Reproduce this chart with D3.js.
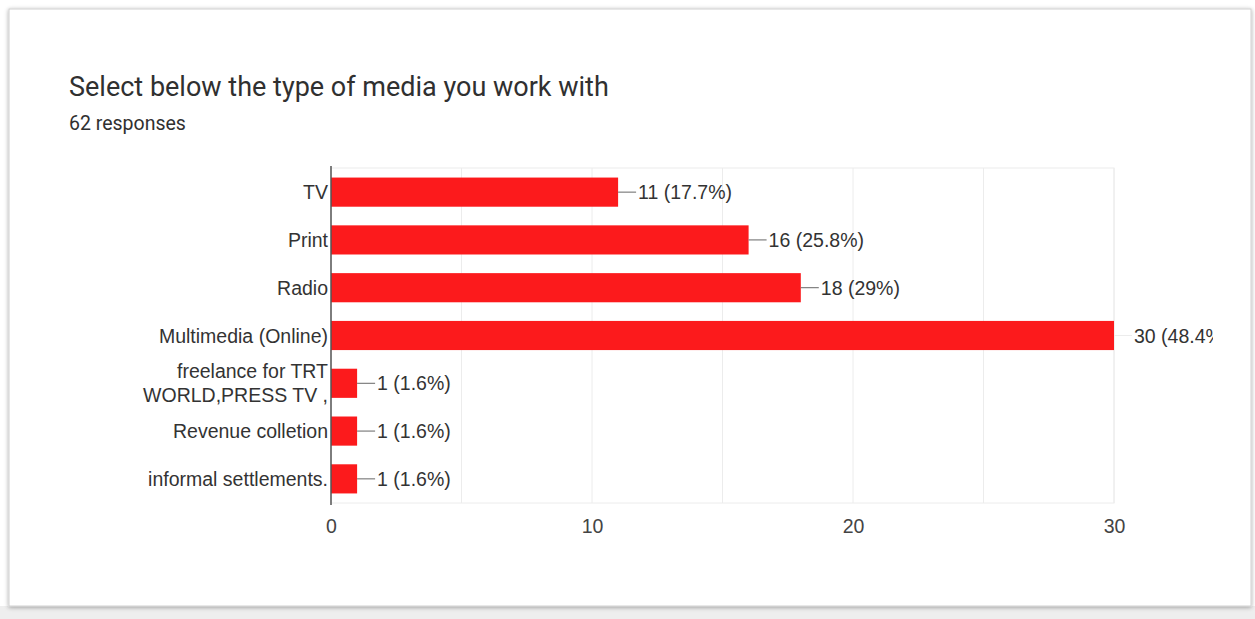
<!DOCTYPE html>
<html>
<head>
<meta charset="utf-8">
<script src="https://cdn.jsdelivr.net/npm/d3@7"></script>
<style>
  body { margin: 0; background: #fff; }
  svg { display: block; }
</style>
</head>
<body>
<svg id="chart" width="1255" height="619"></svg>
<script>
// chart data
const categories = [
  ["TV"],
  ["Print"],
  ["Radio"],
  ["Multimedia (Online)"],
  ["freelance for TRT", "WORLD,PRESS TV ,"],
  ["Revenue colletion"],
  ["informal settlements."]
];
const counts = [11, 16, 18, 30, 1, 1, 1];
const percents = ["17.7%", "25.8%", "29%", "48.4%", "1.6%", "1.6%", "1.6%"];
const responses = 62;
const xTicks = [0, 10, 20, 30];
const gridTicks = [5, 10, 15, 20, 25, 30];

const svg = d3.select("#chart");
const font = "Arial, 'Liberation Sans', sans-serif";
const fs = 19.5;
const plotTop = 168, plotBottom = 503;

// card with a soft shadow
const defs = svg.append("defs");
const shadow = defs.append("filter").attr("id", "shadow")
  .attr("x", "-5%").attr("y", "-5%").attr("width", "110%").attr("height", "110%");
shadow.append("feDropShadow").attr("dx", 0).attr("dy", 1)
  .attr("stdDeviation", 2).attr("flood-color", "#000").attr("flood-opacity", 0.35);

svg.append("rect")
  .attr("x", 0).attr("y", 606).attr("width", 1255).attr("height", 13)
  .attr("fill", "#eeeeee");
svg.append("rect")
  .attr("x", 9).attr("y", 9).attr("width", 1242).attr("height", 597)
  .attr("fill", "#fff").attr("stroke", "#d0d0d0")
  .attr("filter", "url(#shadow)");

// titles
svg.append("text")
  .attr("x", 69).attr("y", 96)
  .attr("font-family", "Roboto, sans-serif").attr("font-size", 27)
  .attr("fill", "#303030")
  .text("Select below the type of media you work with");
svg.append("text")
  .attr("x", 69).attr("y", 130)
  .attr("font-family", "Roboto, sans-serif").attr("font-size", 19.5)
  .attr("fill", "#303030")
  .text(responses + " responses");

// scales
const x = d3.scaleLinear().domain([0, 30]).range([331, 1114]);
const y = d3.scaleBand()
  .domain(d3.range(categories.length))
  .range([plotTop, plotBottom])
  .paddingInner(0.39)
  .paddingOuter(0.2);

const clip = defs.append("clipPath").attr("id", "clip");
clip.append("rect").attr("x", 0).attr("y", 0).attr("width", 1213).attr("height", 619);

// plot frame and gridlines
svg.append("rect")
  .attr("x", x(0)).attr("y", plotTop)
  .attr("width", x(30) - x(0)).attr("height", plotBottom - plotTop)
  .attr("fill", "none").attr("stroke", "#ececec");
svg.append("g")
  .selectAll("line")
  .data(gridTicks)
  .join("line")
  .attr("x1", d => x(d)).attr("x2", d => x(d))
  .attr("y1", plotTop).attr("y2", plotBottom)
  .attr("stroke", "#ececec");

// x axis labels
const xAxis = d3.axisBottom(x).tickValues(xTicks).tickSize(0).tickPadding(16);
const xg = svg.append("g").attr("transform", `translate(0,${plotBottom})`).call(xAxis);
xg.select(".domain").remove();
xg.selectAll("text")
  .attr("font-family", font).attr("font-size", fs).attr("fill", "#444");

// bars
svg.append("g")
  .selectAll("rect")
  .data(counts)
  .join("rect")
  .attr("x", x(0))
  .attr("y", (d, i) => y(i))
  .attr("width", d => x(d) - x(0))
  .attr("height", y.bandwidth())
  .attr("fill", "#fc1a1c");

// connector lines and value labels
const lab = svg.append("g").attr("clip-path", "url(#clip)");
lab.selectAll("line")
  .data(counts)
  .join("line")
  .attr("x1", d => x(d)).attr("x2", d => x(d) + 18)
  .attr("y1", (d, i) => y(i) + y.bandwidth() / 2)
  .attr("y2", (d, i) => y(i) + y.bandwidth() / 2)
  .attr("stroke", d => d === 30 ? "#ececec" : "#666");
lab.selectAll("text")
  .data(counts)
  .join("text")
  .attr("x", d => x(d) + 20)
  .attr("y", (d, i) => y(i) + y.bandwidth() / 2)
  .attr("dy", "0.36em")
  .attr("font-family", font).attr("font-size", fs).attr("fill", "#333")
  .text((d, i) => d + " (" + percents[i] + ")");

// y axis labels
const yl = svg.append("g");
categories.forEach((lines, i) => {
  const cy = y(i) + y.bandwidth() / 2;
  const t = yl.append("text")
    .attr("text-anchor", "end")
    .attr("font-family", font).attr("font-size", fs).attr("fill", "#333");
  lines.forEach((ln, k) => {
    t.append("tspan")
      .attr("x", 328)
      .attr("y", cy + (k - (lines.length - 1) / 2) * 24)
      .attr("dy", "0.36em")
      .text(ln);
  });
});

// axis line
svg.append("line")
  .attr("x1", x(0)).attr("x2", x(0))
  .attr("y1", plotTop - 2).attr("y2", plotBottom + 2)
  .attr("stroke", "#555").attr("stroke-width", 1.5);
</script>
</body>
</html>
